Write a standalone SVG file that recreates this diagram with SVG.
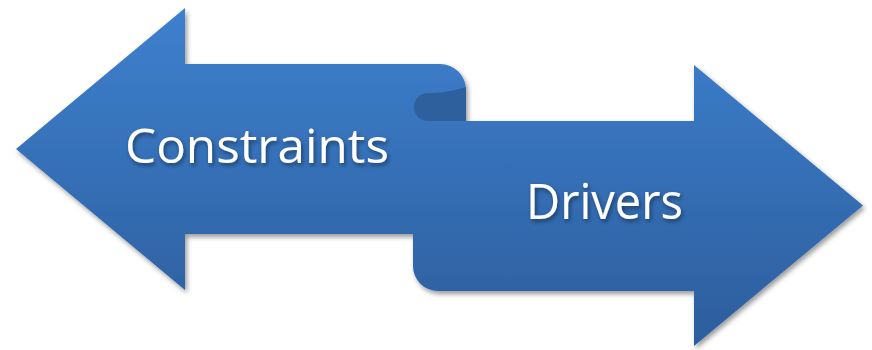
<svg xmlns="http://www.w3.org/2000/svg" width="872" height="350" viewBox="0 0 872 350">
  <defs>
    <linearGradient id="blue" gradientUnits="userSpaceOnUse" x1="0" y1="0" x2="0" y2="350">
      <stop offset="0" stop-color="#3e81d0"/>
      <stop offset="1" stop-color="#2c5d9c"/>
    </linearGradient>
    <filter id="shadow" x="-5%" y="-5%" width="115%" height="115%">
      <feDropShadow dx="2" dy="3" stdDeviation="2.5" flood-color="#000" flood-opacity="0.4"/>
    </filter>
    <filter id="tshadow" x="-5%" y="-10%" width="115%" height="130%">
      <feDropShadow dx="1.5" dy="2.5" stdDeviation="2" flood-color="#000" flood-opacity="0.45"/>
    </filter>
  </defs>
  <style>
    .label { font-family: "Open Sans", "Noto Sans", "Liberation Sans", sans-serif; fill: #ffffff; }
  </style>
  <rect width="872" height="350" fill="#ffffff"/>
  <g id="double-arrow">
    <path d="M16,149 L185,8 L185,64 L440,64 A26,26 0 0 1 466,90 L466,121 L694,121 L694,65 L863,205.5 L694,346 L694,291 L438,291 A25,25 0 0 1 413,266 L413,234 L185,234 L185,290 Z" fill="url(#blue)" filter="url(#shadow)"/>
    <path d="M466,87 C452,91 442,93 428,93 A14,14 0 0 0 428,121 L466,121 Z" fill="#2e609d"/>
  </g>
  <g id="constraints">
    <text class="label" x="125" y="163" font-size="47" textLength="264" lengthAdjust="spacingAndGlyphs" filter="url(#tshadow)">Constraints</text>
  </g>
  <g id="drivers">
    <text class="label" x="526" y="219" font-size="49" textLength="157" lengthAdjust="spacingAndGlyphs" filter="url(#tshadow)">Drivers</text>
  </g>
</svg>
